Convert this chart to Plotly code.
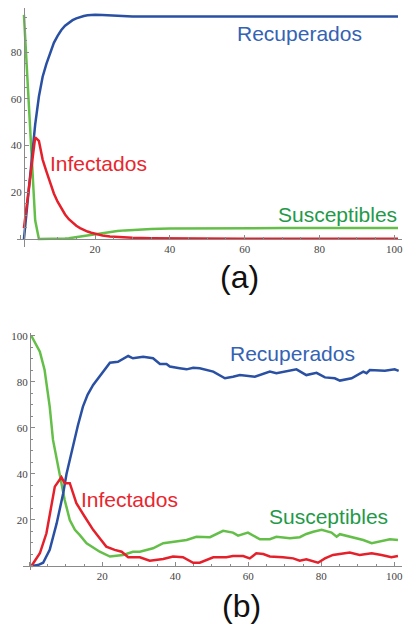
import plotly.graph_objects as go

# ---------------- data: panel (a) ----------------
t_a = [1, 2, 3, 4, 5, 6, 7, 8, 9, 10, 11, 12, 13, 14, 15, 16, 17, 18, 19, 20,
       22, 24, 26, 28, 30, 35, 40, 50, 60, 70, 80, 90, 101]
rec_a = [0, 17, 34, 49, 61, 69.5, 75, 80, 84, 87, 89.5, 91.3, 92.7, 93.7, 94.5, 95.1, 95.5, 95.8, 96.0, 96.0,
         95.9, 95.7, 95.5, 95.4, 95.3, 95.3, 95.3, 95.3, 95.3, 95.3, 95.3, 95.3, 95.3]
inf_a = [4.7, 17, 29.5, 43.5, 42, 34, 29, 24, 19.5, 16, 13, 10.5, 8.5, 7, 5.7, 4.7, 3.9, 3.2, 2.7, 2.2,
         1.5, 1.1, 0.8, 0.6, 0.5, 0.35, 0.25, 0.15, 0.1, 0.1, 0.1, 0.1, 0.1]
sus_a = [96, 68, 41, 8, 0, 0, 0, 0, 0, 0.05, 0.1, 0.2, 0.35, 0.6, 0.85, 1.1, 1.35, 1.6, 1.8, 2.0,
         2.6, 3.0, 3.4, 3.7, 3.95, 4.3, 4.5, 4.65, 4.7, 4.7, 4.7, 4.7, 4.7]

# ---------------- data: panel (b) ----------------
t_sus_b = [0.6, 2.9, 4.2, 5.6, 6.5, 7.9, 9.7, 11.1, 12.5, 13.8, 15.7, 19.3, 21.1, 22.1, 25.7, 28.4, 30.3,
           33.9, 36.7, 39.4, 43.1, 45.8, 49.5, 53.1, 55.8, 57.2, 59.9, 63.2, 65.9, 67.7, 71.4, 74.1,
           75.9, 77.8, 80.1, 82.8, 84.2, 85.1, 87.8, 91.5, 93.8, 96.0, 98.8, 101.0]
sus_b = [100, 93.2, 85.2, 69.3, 54.8, 43.2, 28.7, 20.0, 15.7, 13.5, 9.9, 6.2, 4.8, 4.1, 4.8, 6.2, 6.2,
         7.7, 9.9, 10.6, 11.3, 12.7, 12.5, 15.3, 14.5, 13.2, 14.5, 11.6, 11.6, 12.7, 12.0, 12.5,
         13.9, 14.9, 15.7, 14.5, 12.7, 13.8, 12.7, 11.3, 9.9, 10.6, 11.6, 11.3]

t_inf_b = [0.6, 2.9, 4.7, 7.0, 8.8, 9.7, 11.1, 12.9, 15.2, 17.5, 19.3, 21.1, 23.4, 25.3, 27.1, 30.3,
           33.0, 36.7, 39.4, 42.1, 44.9, 46.7, 50.4, 54.0, 55.8, 58.6, 60.4, 62.2, 64.1, 65.9, 69.5,
           72.3, 74.1, 75.9, 79.1, 81.0, 83.2, 87.8, 90.5, 93.8, 96.5, 99.2, 101.0]
inf_b = [0, 5.5, 14.2, 34.5, 38.6, 36.0, 36.0, 27.3, 21.4, 15.7, 12.0, 8.4, 7.0, 6.2, 3.8, 3.8,
         2.3, 3.0, 4.1, 3.8, 1.4, 1.4, 3.8, 3.8, 4.3, 4.3, 3.3, 5.5, 5.2, 4.1, 3.8,
         3.3, 2.3, 2.9, 1.4, 3.3, 4.8, 5.8, 4.8, 5.5, 4.8, 3.8, 4.3]

t_rec_b = [0.6, 2.4, 3.8, 5.6, 7.5, 9.3, 10.2, 11.1, 12.0, 13.3, 14.7, 16.0, 17.5, 19.8, 22.1, 24.3,
           27.1, 28.4, 31.2, 33.9, 35.8, 37.6, 38.5, 41.2, 43.1, 44.9, 46.7, 50.4, 53.6, 55.8, 57.7,
           61.8, 65.9, 67.7, 73.2, 75.9, 78.7, 81.0, 83.7, 85.1, 88.3, 91.5, 92.4, 93.3, 97.4, 100.1, 101.2]
rec_b = [0, 0.4, 1.4, 7.0, 18.5, 31.6, 40.0, 46.5, 53.0, 61.0, 69.3, 74.5, 78.7, 83.8, 88.4, 88.8,
         91.3, 90.3, 91.0, 90.3, 87.8, 87.8, 86.7, 86.0, 85.5, 86.2, 86.0, 84.5, 81.6, 82.3, 83.0,
         82.3, 84.5, 83.8, 85.5, 83.0, 84.0, 82.0, 81.6, 80.6, 81.6, 84.5, 83.8, 85.2, 84.9, 85.5, 84.8]

x_tickvals = [0, 20, 40, 60, 80, 100]
x_ticktext = ["", "20", "40", "60", "80", "100"]
y_tickvals_a = [20, 40, 60, 80]
y_tickvals_b = [20, 40, 60, 80, 100]

labels = ["Recuperados", "Infectados", "Susceptibles"]

# ---------------- styling ----------------
W, H = 403, 625
BLUE, RED, GREEN = "#2a50a3", "#e5202a", "#64bf48"
BLUE_T, RED_T, GREEN_T = "#3462b4", "#e8262e", "#1f9a48"
AXC = "#8a8a8a"

fig = go.Figure()
for xa, ya, tS, S, tI, I, tR, R in [
    ("x", "y", t_a, sus_a, t_a, inf_a, t_a, rec_a),
    ("x2", "y2", t_sus_b, sus_b, t_inf_b, inf_b, t_rec_b, rec_b),
]:
    fig.add_trace(go.Scatter(x=tS, y=S, mode="lines", line=dict(color=GREEN, width=2.5),
                             xaxis=xa, yaxis=ya, showlegend=False, hoverinfo="skip"))
    fig.add_trace(go.Scatter(x=tR, y=R, mode="lines", line=dict(color=BLUE, width=2.5),
                             xaxis=xa, yaxis=ya, showlegend=False, hoverinfo="skip"))
    fig.add_trace(go.Scatter(x=tI, y=I, mode="lines", line=dict(color=RED, width=2.5),
                             xaxis=xa, yaxis=ya, showlegend=False, hoverinfo="skip"))


def ax(**kw):
    d = dict(showgrid=False, zeroline=False, showline=True, linecolor=AXC, linewidth=1,
             ticks="inside", ticklen=4, tickwidth=1, tickcolor=AXC,
             tickfont=dict(family="Liberation Serif, Times New Roman, serif", size=11, color="#444444"),
             ticklabeloverflow="allow",
             automargin=False, fixedrange=True, anchor="free",
             minor=dict(ticks="inside", ticklen=2, tickwidth=1, tickcolor=AXC, dtick=5, tick0=0,
                        showgrid=False))
    d.update(kw)
    return d


fig.update_layout(
    width=W, height=H, margin=dict(l=0, r=0, t=0, b=0),
    paper_bgcolor="white", plot_bgcolor="white",
    xaxis=ax(domain=[16.5 / W, 402 / W], range=[-0.99, 102.06], position=1 - 239 / H,
             tickmode="array", tickvals=x_tickvals, ticktext=x_ticktext),
    yaxis=ax(domain=[1 - 247.2 / H, 1 - 7.8 / H], range=[-3.5, 99], position=24 / W,
             tickmode="array", tickvals=y_tickvals_a),
    xaxis2=ax(domain=[22.7 / W, 401.6 / W], range=[-1.8, 102], position=1 - 566 / H,
              tickmode="array", tickvals=x_tickvals, ticktext=x_ticktext),
    yaxis2=ax(domain=[1 - 570.1 / H, 1 - 333 / H], range=[-1.8, 101.3], position=30 / W,
              tickmode="array", tickvals=y_tickvals_b),
)

lab_font = dict(family="Liberation Sans, Arial", size=21)
ann = [
    # panel (a)
    dict(x=74.7, y=88.2, xref="x", yref="y", text=labels[0], font=dict(color=BLUE_T, **lab_font)),
    dict(x=20.9, y=32.3, xref="x", yref="y", text=labels[1], font=dict(color=RED_T, **lab_font)),
    dict(x=84.9, y=10.5, xref="x", yref="y", text=labels[2], font=dict(color=GREEN_T, **lab_font)),
    # panel (b)
    dict(x=72.1, y=92.2, xref="x2", yref="y2", text=labels[0], font=dict(color=BLUE_T, **lab_font)),
    dict(x=27.5, y=28.7, xref="x2", yref="y2", text=labels[1], font=dict(color=RED_T, **lab_font)),
    dict(x=82.1, y=21.5, xref="x2", yref="y2", text=labels[2], font=dict(color=GREEN_T, **lab_font)),
    # panel captions
    dict(x=239 / W, y=1 - 277 / H, xref="paper", yref="paper", text="(a)",
         font=dict(family="Liberation Sans, Arial", size=32, color="#111111")),
    dict(x=241 / W, y=1 - 606 / H, xref="paper", yref="paper", text="(b)",
         font=dict(family="Liberation Sans, Arial", size=32, color="#111111")),
]
for a in ann:
    a.update(showarrow=False, xanchor="center", yanchor="middle")
fig.update_layout(annotations=ann)

fig.write_html("out.html", config={"displayModeBar": False},
               post_script="document.body.style.margin='0';document.body.style.overflow='hidden';")
